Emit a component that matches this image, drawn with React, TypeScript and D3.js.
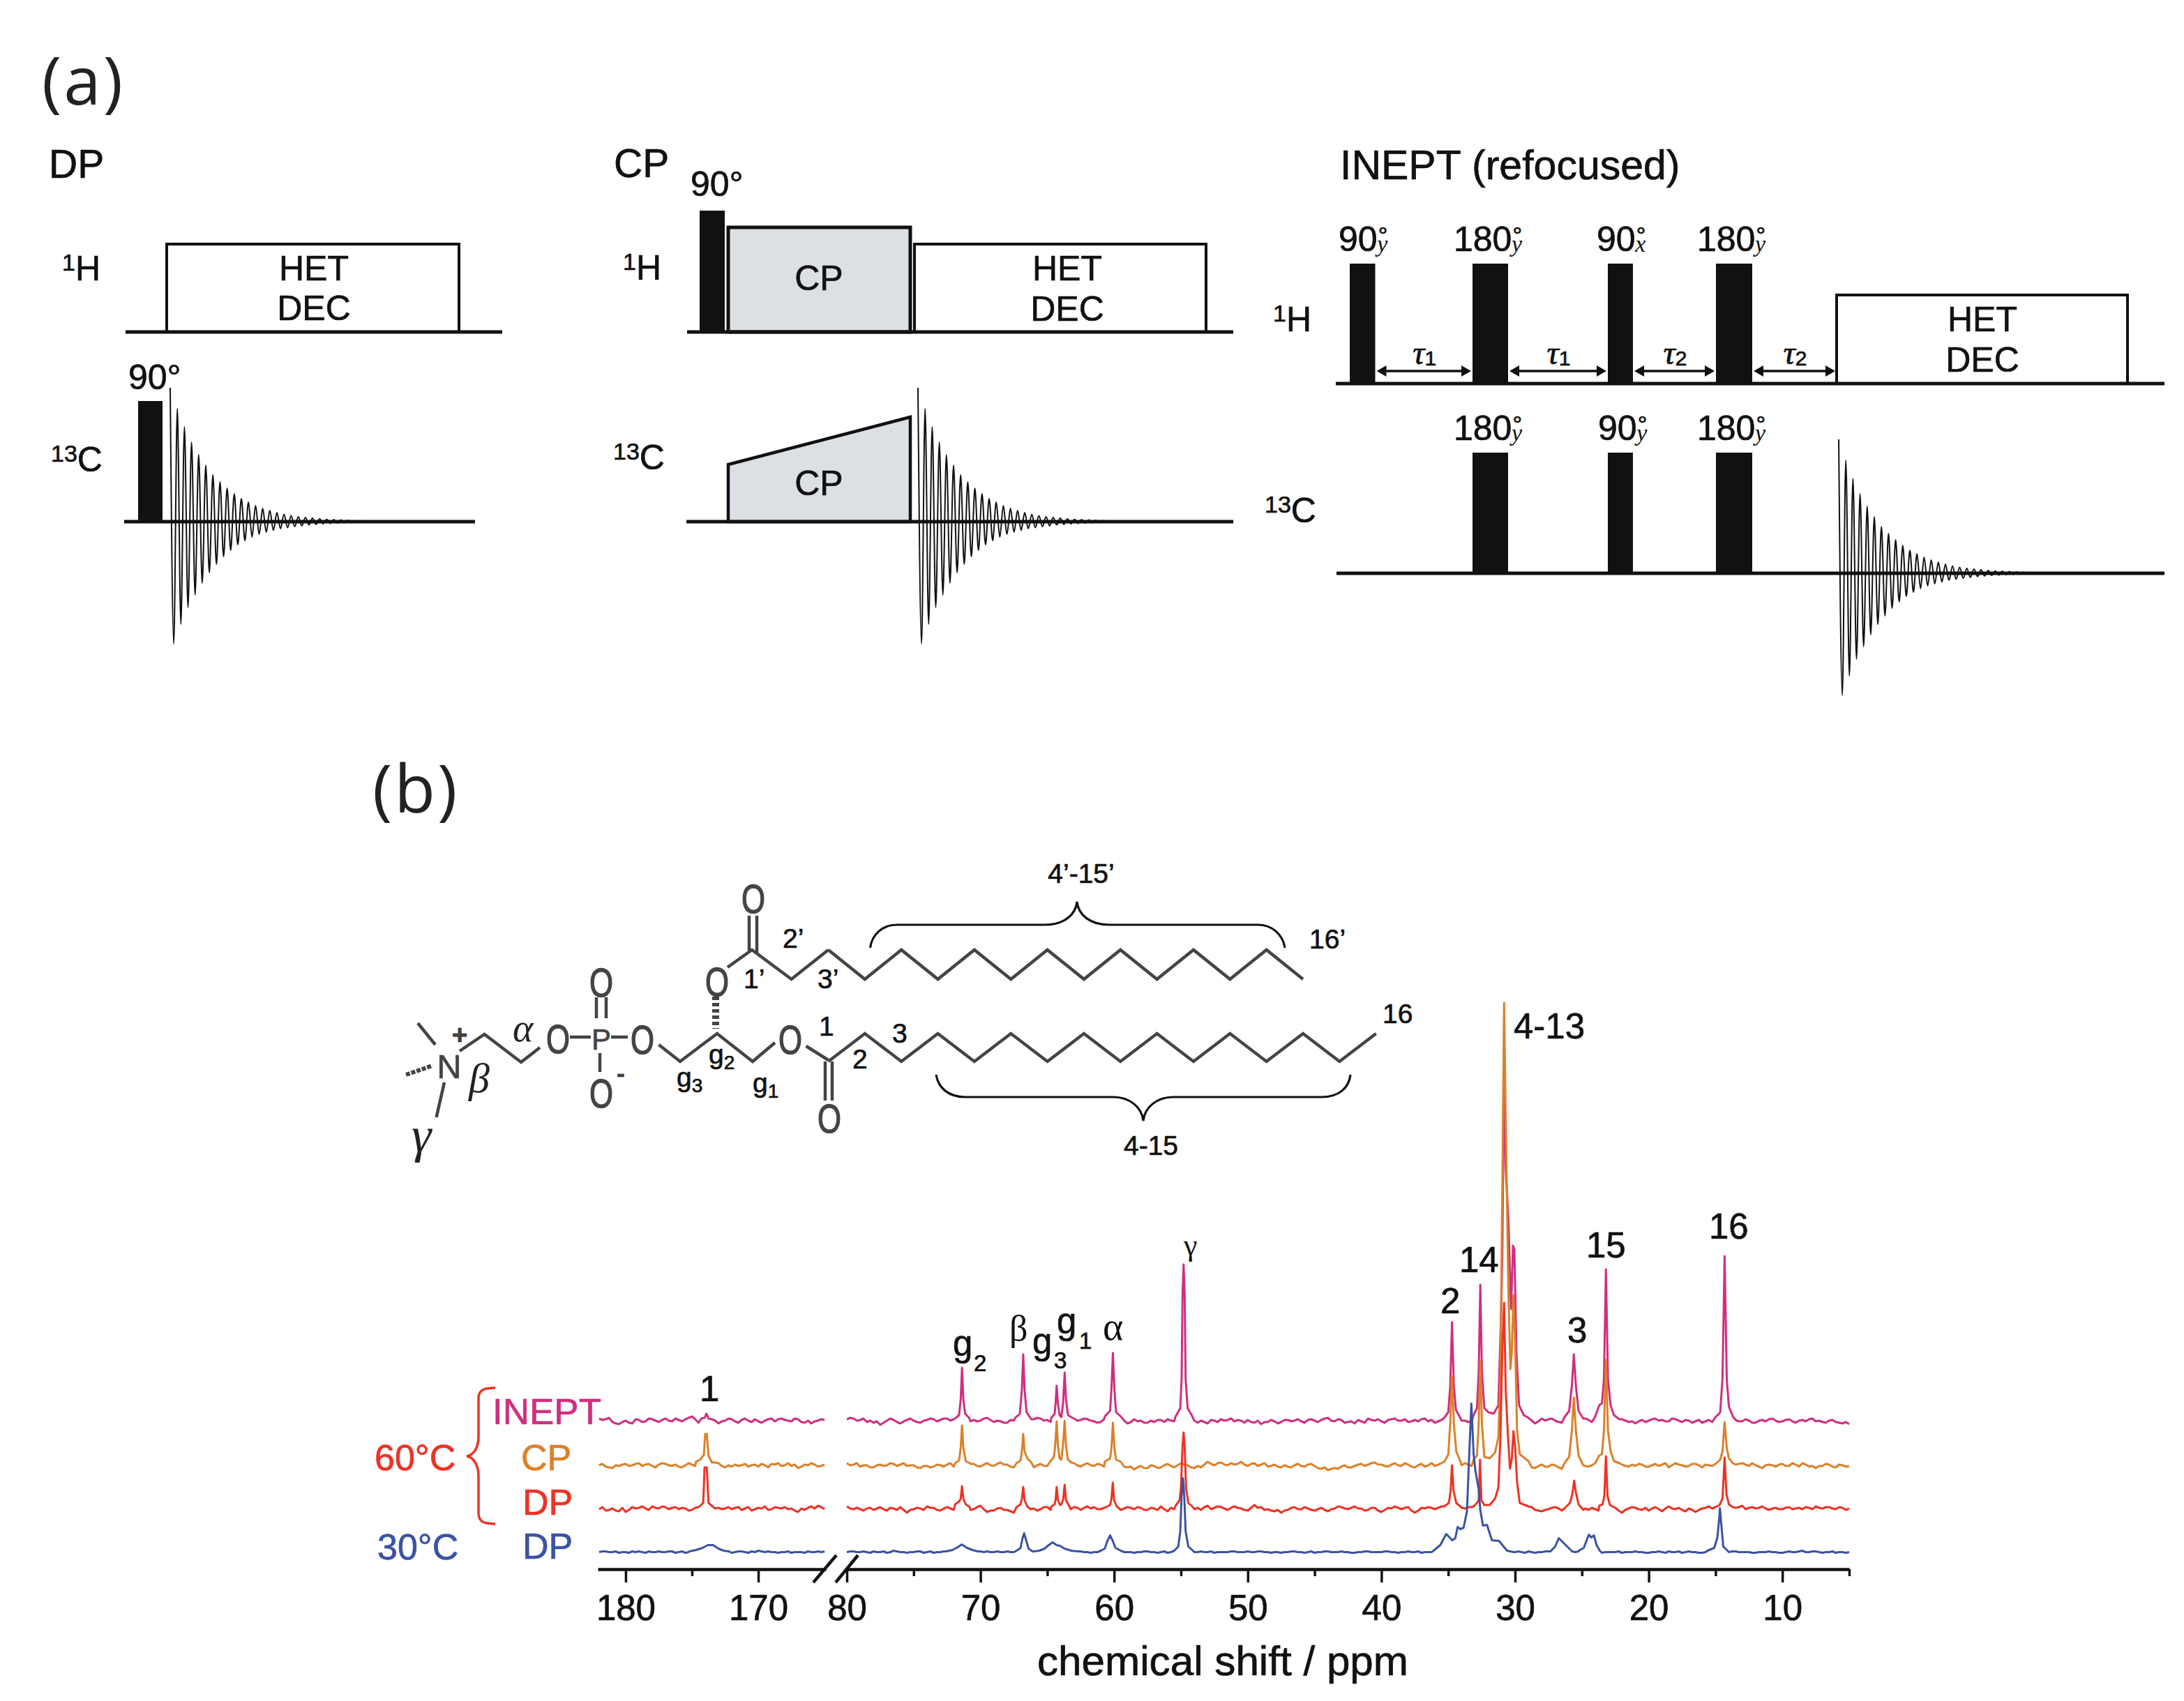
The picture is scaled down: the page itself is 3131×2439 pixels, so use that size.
import React, { useEffect, useRef } from 'react'
import * as d3 from 'd3'

type Pt = [number, number]

// FID lobes, amplitude
const fidUp = [192, 162, 136, 114, 96, 81, 67, 57, 48, 40, 33, 28, 23, 19, 16, 13, 10.5, 8.6, 7, 6, 5, 4, 3.3, 2.9, 2.4, 2, 1.6, 1.3, 1, 0.8, 0.6, 0.4, 0.3, 0.2]
const fidDown = [175, 147, 123, 105, 88, 73, 61, 50, 41, 33, 27, 22, 18, 15, 12.5, 10, 8.5, 7, 5.8, 4.6, 3.8, 3, 2.5, 2, 1.6, 1.2, 1, 0.8, 0.6, 0.4, 0.3, 0.2, 0.1, 0.1]

// INEPT timings, measured from the start of the row
const ineptPulses1H: Pt[] = [[20, 56.5], [196, 247], [390, 426], [545, 597]]
const ineptPulses13C: Pt[] = [[196, 247], [390, 426], [545, 597]]
const ineptDelays: [number, number, string][] = [[56.5, 196, '1'], [247, 390, '1'], [426, 545, '2'], [597, 718, '2']]
const ineptAngles1H = [['90', 'y'], ['180', 'y'], ['90', 'x'], ['180', 'y']]
const ineptAngles13C = [['180', 'y'], ['90', 'y'], ['180', 'y']]

// spectra: baseline noise on a 0.5 ppm grid (182..165 and 80..5), intensity above baseline
const noiseInept60L = [3, 2, -2, -5, 0, -4, 1, -1, 2, -2, 3, -1, 1, 2, 6, -3, 0, -2, -4, 0, 2, -3, 3, -2, -1, 0, 3, 2, 1, -1, 2, -3, -4, 0, 1]
const noiseCp60L = [0, -2, -4, -1, 2, 0, 3, 1, -1, 1, 2, -1, -2, 0, 1, 3, 0, -1, 3, -3, -2, -1, 2, 0, -2, 0, 2, 3, 0, -1, -4, 1, 3, -2, 1]
const noiseDp60L = [-1, -3, 0, -4, -5, 2, 1, 0, 3, 0, 2, 1, -1, 0, -2, -1, 0, -2, 1, 0, -1, 2, 0, -3, 1, 3, -1, 1, 2, 0, -5, -2, 3, 4, -1]
const noiseDp30L = [0, 1, 0, -1, 0, 1, 1, -1, 0, 1, 0, 1, 0, -1, 0, 0, 0, 1, 0, 0, -1, 1, 0, 1, 2, 0, 0, -1, 0, -1, 0, -1, 0, 1, 1]

// same traces, the points halfway between the grid above
const midInept60L = [1, 4, -4, -2, -3, 2, -2, 3, 0, 1, 0, 3, -1, 4, 2, 1, -3, 0, -1, 3, -1, 1, 0, 2, -3, 2, -1, 3, 0, 3, -2, 0, -1, 2]
const midCp60L = [2, -3, 0, 1, -1, 2, -1, 2, -3, 3, 0, 1, -3, 3, -1, 1, 2, 4, -1, 0, 1, 0, -2, 1, 2, -3, 1, -1, 3, 1, -2, 0, 1, -1]
const midDp60L = [2, -2, -3, 1, -2, 0, 3, -2, 1, 3, -1, 2, 1, -3, 1, 1, -3, 0, -1, 2, 1, -2, 2, -1, 0, -2, 2, 0, -1, -3, 0, 1, 0, 2]
const midDp30L = [1, 0, 1, 0, -1, 0, 0, 1, 0, 0, 1, -1, 1, 0, 1, -1, 1, 0, 1, 0, 0, 1, -1, 0, 1, 1, 0, 0, 1, 0, 0, 1, 0, 0]

const noiseInept60R = [
  2, 3, 1, -2, -3, -6, 0, 1, -4, 1,
  0, -3, 1, 2, 1, 3, 2, -5, -4, 1,
  0, 4, -2, -1, -3, 0, 1, 4, 2, 3,
  1, 0, -1, 0, 3, 1, 2, -1, -2, 0,
  1, -3, -4, 2, 0, -3, -2, 1, 2, -1,
  -3, -2, 0, 0, -4, 0, 2, 1, -1, 0,
  1, -3, -5, -2, -1, -2, 1, 0, -1, 1,
  0, 1, 4, -1, 1, -2, -4, -1, 3, 0,
  -1, 1, 3, 0, -2, 1, 2, -1, -3, 1,
  2, 3, 0, -2, 1, 4, 1, 0, -1, -3,
  -5, -1, 4, -4, 3, 2, 0, -3, 1, 2,
  0, 1, -2, -3, -1, 0, 2, -2, -4, 1,
  0, 3, 1, -1, 2, -2, 0, -1, -3, 1,
  -2, 0, 2, 1, -1, 0, -3, 1, 2, 0,
  -1, 2, -3, 1, 2, -1, -2, 0, -2, -4,
  -5]
const midInept60R = [
  4, 0, 3, 0, -1, -3, 3, -2, -1, 3,
  -2, 0, 3, -1, 3, 0, 4, -3, -1, -1,
  3, 1, 0, -3, 1, -2, 3, 2, 4, 0,
  -2, 2, 1, -3, 0, 3, 0, -3, 2, -2,
  -1, 0, -2, -1, -3, 0, 1, -2, 0, 2,
  -1, 1, -3, -2, 1, -2, 0, 3, 1, -3,
  -2, 0, -2, 1, -4, 1, -1, 2, -3, 2,
  -2, 3, 0, 2, -3, -1, 1, -3, 1, 2,
  -3, 2, 0, 2, -1, -1, 3, 1, -1, -1,
  0, 2, 0, -1, 2, -1, 3, -2, 0, -1,
  -3, 1, 0, -1, 0, 3, -2, -1, 3, -1,
  3, -2, 0, -4, 1, -2, 0, -1, -1, -2,
  2, 0, -1, 3, 0, 1, -3, 1, -1, -2,
  1, -2, 3, -1, 2, -3, 0, -1, 3, -2,
  1, -1, 0, -1, 3, 0, -3, 1, -3, -2]
const noiseCp60R = [
  3, 1, -2, 0, -3, 1, 0, 2, 1, -1,
  0, -4, -1, -2, 0, 1, -2, 3, 0, 2,
  -2, 3, -1, 4, 1, -3, 0, -4, -3, 2,
  -1, 1, 0, 2, 3, -2, 3, -1, 1, -2,
  0, 1, -3, -6, -1, -4, -1, -3, 2, -3,
  3, 0, -4, -3, 5, 0, 4, 0, 1, 5,
  -1, 3, 1, -2, 1, -3, -2, 0, -1, 1,
  -1, -5, -7, -4, -2, -3, -1, 2, 1, 4,
  1, -2, 3, -1, 1, -3, 2, 0, -1, 3,
  -2, 2, 0, 1, 2, 0, -1, -1, 2, 1,
  0, 3, -1, -4, 1, -2, 0, -5, 2, -1,
  1, -2, -4, 2, 0, 3, 1, -2, -1, 1,
  -2, 2, 1, -3, 3, 0, -1, 2, -3, 0,
  1, 2, -2, 1, 3, -1, 0, -4, 1, -2,
  2, -1, 1, 3, -2, -4, -1, 1, -3, 0,
  -1]
const midCp60R = [
  0, 3, 0, -3, 0, -1, 3, -1, 3, 0,
  -3, -1, -3, 1, -2, 3, 0, 1, 2, -1,
  1, 0, 2, 1, -2, 0, -3, -1, 0, -1,
  2, -2, 3, 0, 0, 1, 0, 2, -2, 0,
  -3, -2, -2, -3, -4, 0, -4, 0, -1, 0,
  1, -3, -1, 1, 2, 3, 1, 3, 2, 1,
  2, -1, 3, -1, -2, 0, -3, 2, -2, 2,
  -4, -3, -5, -5, 0, -3, 1, -1, 3, 1,
  -1, 1, 0, 3, -2, 0, -2, 3, 1, 0,
  1, -1, 3, -1, 3, -2, 1, 0, 0, 3,
  -2, 1, -3, -1, -2, 1, -3, -1, 0, 2,
  -1, 0, -1, -1, 3, 0, -1, 1, 2, -2,
  0, -1, 3, 0, 1, -2, 2, 0, 1, -1,
  3, -1, 0, 2, 1, 3, -2, 0, 0, 1,
  -1, 3, -2, 1, -1, -1, 2, -2, 1, -2]
const noiseDp60R = [
  3, -1, -1, 0, -2, 2, -3, 0, 2, -6,
  -1, 0, 3, 1, -3, 2, -2, 3, 2, -1,
  4, -5, -3, 1, -2, -6, -2, -4, 0, -1,
  2, -5, -1, 1, 2, -2, 3, 2, -1, -2,
  -3, 3, 2, -1, 1, -2, 0, 3, -4, -1,
  2, 3, -1, -2, 4, 1, 2, -2, 3, 0,
  -3, 5, 2, -1, -4, -6, -2, 2, -1, 0,
  -3, 1, -4, 0, 2, -1, 3, 0, -2, 1,
  -5, 1, 3, -1, 2, -6, 1, 2, -1, 3,
  0, -2, 1, 2, 1, 0, -3, -2, 2, 1,
  -4, 1, 0, -2, -4, -1, 2, -3, -1, 1,
  3, -2, -1, -5, -1, 1, -6, 0, 1, -2,
  -3, 2, -4, 3, -1, -2, 0, -5, 0, 3,
  2, -2, -4, 1, 4, 1, 0, 3, -2, 1,
  -1, 2, 0, -1, 1, 3, 0, 2, -1, 1,
  0]
const midDp60R = [
  0, 1, -3, 1, 0, -1, 1, -2, -2, -2,
  1, -2, 1, -2, 0, 0, 1, 0, -2, 2,
  -1, -3, 0, -2, -4, -3, -5, -1, -3, 2,
  -2, -2, 2, -1, 1, 1, 0, -1, 1, -4,
  1, 0, 1, 2, -2, 1, -2, -1, 1, 1,
  0, 0, 1, 2, -1, 3, 0, 1, 1, -2,
  1, 1, -2, -3, -2, -3, 1, -1, 2, -2,
  -1, -2, -1, 3, 0, 1, 0, -3, 1, -3,
  -2, 0, 1, 1, -3, -3, 0, 1, 1, -1,
  2, -1, 0, 2, -1, -2, 0, -1, 0, 3,
  -1, -2, 2, -3, -2, 1, 0, 1, -2, 0,
  0, 1, -3, -2, -2, -3, -2, 2, -1, 1,
  0, -1, 0, 0, 1, -4, -2, -2, 1, 0,
  0, -1, -1, 2, -1, 2, 1, 0, 0, -1,
  1, -1, 1, 2, -1, 1, 2, 0, 2, -2]
const noiseDp30R = [
  0, 1, 0, 0, 1, 0, -1, 2, 0, -1,
  0, 1, 0, -1, 0, 0, -1, 1, 0, 0,
  1, 1, 0, 0, 1, 0, 0, -1, 0, 1,
  0, -1, 0, 0, 0, 1, 0, 0, -1, 0,
  0, 1, 0, -1, 0, 1, 0, 0, -1, 0,
  0, -1, 0, 1, 0, -1, 0, 0, 1, 0,
  1, 0, 1, 0, 0, -1, 0, 1, 0, 0,
  -1, 0, 1, 0, 1, 0, -1, 0, 1, 0,
  0, 1, 0, 0, 1, 0, -1, 0, 0, 1,
  0, 0, 1, 0, 0, 0, 0, -1, 0, -1,
  0, 0, 1, -1, 0, 1, 0, -1, 0, 0,
  0, 1, 0, -1, 0, 0, -1, 0, 1, 0,
  -1, 0, 0, 1, 0, -1, 1, 0, -1, 0,
  0, -1, 0, 1, 0, 0, -1, 0, 1, 0,
  -1, 1, 0, 2, 0, 1, -1, 0, -1, 0,
  0]
const midDp30R = [
  1, 0, 1, -1, 0, 1, 0, 1, 0, 0,
  1, -1, 1, 0, 1, 0, 0, 0, 1, -1,
  0, 0, 1, 0, 0, 1, -1, 0, 1, 0,
  0, 0, 1, 0, 1, 0, -1, 0, 0, 1,
  -1, 0, 0, 0, 1, 0, -1, 1, 0, 1,
  -1, 0, 0, 0, 1, 0, 0, 1, 0, 0,
  0, 1, 0, -1, 0, 0, 1, 0, -1, 1,
  0, 1, 0, 0, 0, -1, 0, 1, 0, 0,
  1, 0, -1, 0, 0, 1, 0, 0, 1, 0,
  -1, 1, 0, -1, 1, 0, -1, 0, 0, 0,
  1, -1, 0, 0, 1, 0, 0, 1, -1, 1,
  0, 0, -1, 0, 0, 1, 0, 0, 0, -1,
  0, 1, -1, 0, 1, 0, 0, -1, 0, 1,
  -1, 0, 1, 0, 0, -1, 0, 0, 0, -1,
  0, 0, 1, 0, 1, 0, 0, 1, 0, -1]

// peaks, [ppm, intensity] points
const peaksInept60L: Pt[][] = [[[174.3, 3], [174.05, 4], [173.9, 10], [173.75, 3], [173.5, 2]]]
const peaksInept60R: Pt[][] = [
  [[71.9, 3], [71.6, 8], [71.48, 30], [71.38, 76], [71.28, 30], [71.15, 10], [70.85, 4]],
  [[67.4, 4], [67.05, 10], [66.9, 45], [66.8, 95], [66.7, 45], [66.55, 12], [66.2, 2]],
  [[64.7, 4], [64.45, 10], [64.38, 25], [64.3, 50], [64.2, 24], [64.08, 8], [63.95, 5], [63.82, 25], [63.7, 69], [63.6, 30], [63.45, 8], [63.2, 5]],
  [[60.7, 6], [60.3, 14], [60.2, 45], [60.09, 97], [59.98, 45], [59.85, 12], [59.5, 6]],
  [[55.4, 6], [55.05, 18], [54.95, 60], [54.88, 180], [54.8, 224], [54.72, 180], [54.65, 60], [54.5, 18], [54.2, 8]],
  [[35.3, 4], [35, 12], [34.85, 50], [34.72, 141], [34.58, 50], [34.42, 15], [34.1, 4]],
  [[33.1, 8], [32.85, 18], [32.72, 70], [32.6, 195], [32.48, 70], [32.3, 18], [32, 12], [31.6, 10], [31.25, 22], [31.05, 150], [30.95, 240], [30.82, 511], [30.7, 360], [30.5, 290], [30.3, 160], [30.15, 251], [30.05, 245], [29.9, 100], [29.7, 22], [29.35, 8], [29, 4]],
  [[26.3, 5], [25.95, 14], [25.75, 50], [25.6, 95], [25.45, 50], [25.25, 14], [24.9, 3]],
  [[24, 6], [23.7, 22], [23.5, 25], [23.35, 60], [23.2, 217], [23.05, 60], [22.85, 22], [22.6, 8], [22.2, 2]],
  [[15, 5], [14.65, 12], [14.48, 60], [14.32, 236], [14.16, 60], [14, 20], [13.7, 6]],
]
const peaksCp60L: Pt[][] = [[[174.7, 5], [174.4, 8], [174.1, 15], [174, 45], [173.88, 45], [173.75, 14], [173.5, 4]]]
const peaksCp60R: Pt[][] = [
  [[71.9, 3], [71.6, 7], [71.48, 25], [71.38, 57], [71.28, 25], [71.1, 6], [70.8, 3]],
  [[67.3, 3], [67, 7], [66.9, 20], [66.8, 45], [66.7, 20], [66.5, 10], [66.2, 4]],
  [[64.8, 5], [64.5, 12], [64.4, 30], [64.3, 63], [64.2, 28], [64.08, 10], [63.95, 8], [63.82, 30], [63.7, 64], [63.6, 28], [63.45, 8], [63.2, 4]],
  [[60.7, 5], [60.3, 10], [60.2, 25], [60.09, 61], [59.98, 25], [59.85, 8], [59.5, 5]],
  [[35.3, 5], [35, 15], [34.85, 60], [34.72, 127], [34.58, 60], [34.4, 20], [34.1, 6]],
  [[33.1, 8], [32.85, 14], [32.72, 60], [32.6, 149], [32.48, 60], [32.3, 12], [31.9, 10], [31.5, 18], [31.25, 40], [31.1, 120], [30.95, 400], [30.82, 663], [30.7, 500], [30.5, 250], [30.35, 138], [30.25, 160], [30.12, 244], [30, 180], [29.85, 50], [29.65, 16], [29.4, 12], [29, 6]],
  [[26.3, 3], [25.95, 12], [25.75, 50], [25.6, 97], [25.45, 50], [25.25, 14], [24.9, 0]],
  [[24, 3], [23.7, 14], [23.5, 16], [23.35, 50], [23.2, 151], [23.05, 50], [22.85, 20], [22.6, 6], [22.2, 3]],
  [[15, 2], [14.65, 8], [14.48, 20], [14.32, 62], [14.16, 25], [14, 10], [13.7, 3]],
]
const peaksDp60L: Pt[][] = [[[174.5, 2], [174.15, 8], [174.05, 59], [173.88, 59], [173.75, 8], [173.45, 3]]]
const peaksDp60R: Pt[][] = [
  [[71.9, 6], [71.6, 10], [71.48, 14], [71.38, 32], [71.28, 14], [71.1, 6], [70.8, 2]],
  [[67.3, 2], [67, 6], [66.9, 14], [66.8, 31], [66.7, 12], [66.5, 3]],
  [[64.7, 3], [64.45, 6], [64.38, 12], [64.3, 31], [64.2, 12], [64.05, 5], [63.95, 6], [63.82, 12], [63.7, 34], [63.6, 12], [63.4, 5]],
  [[60.6, 2], [60.3, 5], [60.2, 14], [60.1, 37], [60, 12], [59.8, 3], [59.5, -2]],
  [[55.4, 4], [55.1, 12], [55, 30], [54.88, 90], [54.8, 109], [54.72, 90], [54.62, 30], [54.45, 8], [54.1, 2]],
  [[35.3, 3], [34.95, 8], [34.82, 25], [34.72, 62], [34.6, 25], [34.4, 8], [34.1, 3]],
  [[33.1, 3], [32.85, 8], [32.72, 12], [32.62, 70], [32.52, 12], [32.3, 5], [31.9, 5], [31.5, 14], [31.25, 30], [31.1, 100], [30.95, 230], [30.82, 295], [30.7, 170], [30.52, 100], [30.38, 57], [30.25, 70], [30.12, 111], [30, 90], [29.85, 38], [29.65, 8], [29.4, 6], [29, 3]],
  [[26.2, 2], [25.9, 8], [25.72, 20], [25.58, 40], [25.44, 22], [25.25, 6], [24.9, -2]],
  [[23.7, 4], [23.45, 6], [23.32, 18], [23.2, 75], [23.08, 18], [22.9, 5], [22.6, 2]],
  [[15, 2], [14.7, 5], [14.48, 14], [14.32, 73], [14.18, 20], [14, 6], [13.7, 2]],
]
const peaksDp30L: Pt[][] = [[[175.2, 1], [174.7, 3], [174.2, 6], [173.8, 10], [173.4, 10], [173, 5], [172.6, 2], [172.2, 1]]]
const peaksDp30R: Pt[][] = [
  [[72.6, 1], [72.1, 3], [71.7, 7], [71.4, 11], [71, 6], [70.6, 3], [70.2, 1]],
  [[67.3, 2], [67, 6], [66.85, 20], [66.73, 27], [66.6, 18], [66.4, 5], [66.1, 1]],
  [[66, 1], [65.6, 2], [65.2, 5], [64.9, 10], [64.6, 14], [64.3, 10], [64.05, 9], [63.7, 5], [63.2, 2], [62.7, 1]],
  [[61, 2], [60.7, 5], [60.5, 16], [60.3, 24], [60.1, 16], [59.9, 6], [59.5, 2]],
  [[55.5, 2], [55.2, 8], [55.05, 30], [54.95, 80], [54.85, 106], [54.75, 80], [54.65, 30], [54.45, 8], [54.1, 2]],
  [[36.1, 2], [35.6, 10], [35.15, 26], [34.7, 17], [34.47, 20], [34.3, 36], [34.1, 33], [33.85, 35], [33.6, 58], [33.47, 120], [33.27, 213], [33.1, 140], [32.97, 117], [32.72, 90], [32.6, 60], [32.4, 38], [32.1, 39], [31.73, 17], [31.2, 16], [30.6, 2], [30.1, 0]],
  [[27.35, 1], [27, 8], [26.73, 20], [26.36, 13], [25.73, 1]],
  [[25.23, 2], [24.86, 6], [24.48, 25], [24.3, 21], [24.1, 24], [23.9, 10], [23.66, 2]],
  [[15.6, 2], [15.1, 6], [14.87, 20], [14.74, 45], [14.67, 63], [14.57, 40], [14.42, 8], [14.1, 2]],
]

const traces = [
  { name: 'INEPT', color: '#CF2F7E', baseline: 2037, noiseL: noiseInept60L, midL: midInept60L, noiseR: noiseInept60R, midR: midInept60R, peaksL: peaksInept60L, peaksR: peaksInept60R },
  { name: 'CP', color: '#DD8029', baseline: 2101, noiseL: noiseCp60L, midL: midCp60L, noiseR: noiseCp60R, midR: midCp60R, peaksL: peaksCp60L, peaksR: peaksCp60R },
  { name: 'DP', color: '#EE3224', baseline: 2163, noiseL: noiseDp60L, midL: midDp60L, noiseR: noiseDp60R, midR: midDp60R, peaksL: peaksDp60L, peaksR: peaksDp60R },
  { name: 'DP', color: '#3A53A4', baseline: 2225.5, noiseL: noiseDp30L, midL: midDp30L, noiseR: noiseDp30R, midR: midDp30R, peaksL: peaksDp30L, peaksR: peaksDp30R },
]

const ticksMajorL = [180, 170]
const ticksMinorL = [175]
const ticksMajorR = [80, 70, 60, 50, 40, 30, 20, 10]
const ticksMinorR = [75, 65, 55, 45, 35, 25, 15, 5]

// peak assignments: label, subscript
const peakLabels: { t: string; x: number; y: number; sub?: string; sx?: number; sy?: number }[] = [
  { t: '1', x: 1003, y: 2009 },
  { t: 'g', x: 1366, y: 1944, sub: '2', sx: 1396, sy: 1966 },
  { t: 'g', x: 1480, y: 1941, sub: '3', sx: 1511, sy: 1962 },
  { t: 'g', x: 1515, y: 1912, sub: '1', sx: 1547, sy: 1934 },
  { t: '2', x: 2065, y: 1883 },
  { t: '14', x: 2092, y: 1824 },
  { t: '4-13', x: 2170, y: 1489 },
  { t: '3', x: 2247, y: 1925 },
  { t: '15', x: 2274, y: 1803 },
  { t: '16', x: 2450, y: 1776 },
]

// lipid skeleton
const upperCarbons = d3.range(14)
const lowerCarbons = d3.range(16)
const headBonds: Pt[][] = [
  [[599, 1467], [624, 1498]],
  [[637, 1552], [625.6, 1602]],
  [[659, 1507], [694.5, 1483], [747, 1523], [774, 1502]],
  [[817, 1487], [847, 1487]],
  [[876, 1487], [900, 1487]],
  [[944.5, 1498], [975, 1522], [1028, 1482], [1079, 1522], [1111, 1495]],
  [[1155.6, 1500], [1187.5, 1520]],
  [[855, 1430], [855, 1460]],
  [[869, 1430], [869, 1460]],
  [[860, 1510], [860, 1537]],
  [[1183, 1522], [1183, 1578]],
  [[1193, 1522], [1193, 1578]],
  [[1043, 1387], [1078, 1362], [1134.6, 1404], [1187.5, 1362]],
  [[1074, 1313], [1074, 1363]],
  [[1085, 1313], [1085, 1366]],
]
const atomO: Pt[] = [[1080, 1288], [1028, 1407], [800, 1489], [862, 1408], [921, 1490], [862, 1567], [1133, 1490], [1189, 1603]]

const sans = '"Liberation Sans", Arial, sans-serif'
const serif = '"Liberation Serif", serif'
const ink = '#111'
const bondInk = '#444'

const fidLine = d3.line<Pt>().curve(d3.curveMonotoneX)
const fidPoints: Pt[] = (() => {
  const x = d3.scaleLinear().domain([0, 1]).range([0, 5.1])
  const out: Pt[] = []
  fidUp.forEach((a, i) => {
    out.push([x(i * 2), -a])
    out.push([x(i * 2 + 1), fidDown[i]])
  })
  return out
})()

function Fid({ x, y }: { x: number; y: number }) {
  return <path transform={`translate(${x},${y})`} d={fidLine(fidPoints) || ''} fill="none" stroke="#111" strokeWidth={2} />
}

function Nucleus({ x, y, mass, el }: { x: number; y: number; mass: string; el: string }) {
  return (
    <text x={x} y={y} fontFamily={sans} fontSize={50} fill={ink}>
      <tspan fontSize={34} dy={-14}>{mass}</tspan>
      <tspan dy={14}>{el}</tspan>
    </text>
  )
}

function HetDec({ x, w, top, bottom, cx, y1, y2 }: { x: number; w: number; top: number; bottom: number; cx: number; y1: number; y2: number }) {
  return (
    <g>
      <rect x={x} y={top} width={w} height={bottom - top} fill="#fff" stroke={ink} strokeWidth={4} />
      <text x={cx} y={y1} textAnchor="middle" fontFamily={sans} fontSize={50} fill={ink}>HET</text>
      <text x={cx} y={y2} textAnchor="middle" fontFamily={sans} fontSize={50} fill={ink}>DEC</text>
    </g>
  )
}

function Angle({ x, y, deg, axis }: { x: number; y: number; deg: string; axis: string }) {
  return (
    <text x={x} y={y} fontFamily={sans} fontSize={50} fill={ink}>
      {deg}
      <tspan fontSize={34} dx={1} dy={-11}>°</tspan>
      <tspan fontFamily={serif} fontStyle="italic" fontSize={34} dx={-15} dy={12} style={{ stroke: 'none' }}>{axis}</tspan>
    </text>
  )
}

function segmentPoints(start: number, noise: number[], mid: number[], groups: Pt[][]): Pt[] {
  const pts: Pt[] = []
  noise.forEach((h, i) => {
    pts.push([start - i * 0.5, h])
    if (i < mid.length) pts.push([start - i * 0.5 - 0.25, mid[i]])
  })
  const kept = pts.filter(([p]) => !groups.some((g) => p <= g[0][0] && p >= g[g.length - 1][0]))
  groups.forEach((g) => kept.push(...g))
  return kept.sort((a, b) => b[0] - a[0])
}

export default function App() {
  const axisL = useRef<SVGGElement>(null)
  const axisR = useRef<SVGGElement>(null)

  const xL = d3.scaleLinear().domain([182.1, 164.9]).range([857, 1184])
  const xR = d3.scaleLinear().domain([80, 5]).range([1214, 2651])
  const yI = d3.scaleLinear().domain([0, 700]).range([0, -700])
  const chainX = d3.scaleLinear().domain([0, 15]).range([1187.5, 1972.7])
  const ineptT = d3.scaleLinear().domain([0, 1188]).range([1915, 3103])

  const lineL = d3.line<Pt>().x((d) => xL(d[0])).y((d) => yI(d[1]))
  const lineR = d3.line<Pt>().x((d) => xR(d[0])).y((d) => yI(d[1]))
  const skeleton = d3.line<Pt>()

  useEffect(() => {
    const draw = (el: SVGGElement | null, scale: any, major: number[], minor: number[]) => {
      const g = d3.select(el)
      g.selectAll('*').remove()
      const maj = g.append('g').call(d3.axisBottom(scale).tickValues(major).tickSize(19).tickSizeOuter(0).tickFormat(d3.format('d')) as any)
      const min = g.append('g').call(d3.axisBottom(scale).tickValues(minor).tickSize(10).tickSizeOuter(0).tickFormat(() => '') as any)
      maj.select('.domain').attr('stroke', ink).attr('stroke-width', 4.5)
      min.select('.domain').remove()
      g.selectAll('line').attr('stroke', ink).attr('stroke-width', 3.5)
      maj.selectAll('text').attr('y', 73).attr('dy', 0).attr('fill', ink).attr('font-size', 51).attr('font-family', sans)
    }
    draw(axisL.current, xL, ticksMajorL, ticksMinorL)
    draw(axisR.current, xR, ticksMajorR, ticksMinorR)
  }, [])

  return (
    <svg width={3131} height={2439} style={{ position: 'absolute', left: 0, top: 0, background: '#fff' }}>
      <style>{'text{stroke:#111;stroke-width:.7px}'}</style>
      {/* panel letters */}
      <text x={60} y={150} fontFamily='"Open Sans", sans-serif' fontWeight={400} fontSize={96} letterSpacing={3} fill="#222" style={{ stroke: 'none' }}>(a)</text>
      <text x={534} y={1165} fontFamily='"Open Sans", sans-serif' fontWeight={400} fontSize={96} letterSpacing={3} fill="#222" style={{ stroke: 'none' }}>(b)</text>

      {/* DP sequence */}
      <text x={70} y={255} fontFamily={sans} fontSize={57} fill={ink}>DP</text>
      <Nucleus x={89} y={402} mass="1" el="H" />
      <HetDec x={239} w={419} top={350} bottom={476} cx={450} y1={402} y2={459} />
      <line x1={180} x2={720} y1={476} y2={476} stroke={ink} strokeWidth={5} />
      <Nucleus x={73} y={676} mass="13" el="C" />
      <text x={184} y={558} fontFamily={sans} fontSize={50} fill={ink}>90°</text>
      <rect x={198} y={575} width={35} height={173} fill={ink} />
      <line x1={178} x2={681} y1={748} y2={748} stroke={ink} strokeWidth={5} />
      <Fid x={244} y={748} />

      {/* CP sequence */}
      <text x={880} y={254} fontFamily={sans} fontSize={57} fill={ink}>CP</text>
      <text x={990} y={281} fontFamily={sans} fontSize={50} fill={ink}>90°</text>
      <Nucleus x={893} y={401} mass="1" el="H" />
      <rect x={1003} y={302} width={36} height={174} fill={ink} />
      <rect x={1044} y={326} width={261} height={150} fill="#DCDFE3" stroke={ink} strokeWidth={5} />
      <text x={1174} y={416} textAnchor="middle" fontFamily={sans} fontSize={50} fill={ink}>CP</text>
      <HetDec x={1311} w={418} top={350} bottom={476} cx={1530} y1={402} y2={460} />
      <line x1={985} x2={1768} y1={476} y2={476} stroke={ink} strokeWidth={5} />
      <Nucleus x={879} y={673} mass="13" el="C" />
      <path d={d3.line()([[1044, 748], [1044, 666], [1305, 598], [1305, 748]]) + 'Z'} fill="#DCDFE3" stroke={ink} strokeWidth={4.5} />
      <text x={1174} y={710} textAnchor="middle" fontFamily={sans} fontSize={50} fill={ink}>CP</text>
      <line x1={984} x2={1768} y1={748} y2={748} stroke={ink} strokeWidth={5} />
      <Fid x={1316} y={748} />

      {/* INEPT sequence */}
      <text x={1921} y={257} fontFamily={sans} fontSize={59} fill={ink}>INEPT (refocused)</text>
      <Nucleus x={1825} y={475} mass="1" el="H" />
      {ineptPulses1H.map(([a, b], i) => (
        <g key={i}>
          <rect x={ineptT(a)} y={378} width={ineptT(b) - ineptT(a)} height={172} fill={ink} />
          <Angle x={ineptT(a) + (i % 2 ? -27 : -16)} y={360} deg={ineptAngles1H[i][0]} axis={ineptAngles1H[i][1]} />
        </g>
      ))}
      {ineptDelays.map(([a, b, n], i) => {
        const x0 = ineptT(a) + 2
        const x1 = ineptT(b) - 2
        return (
          <g key={i}>
            <path d={`M${x0} 532L${x0 + 14} 524L${x0 + 14} 540ZM${x1} 532L${x1 - 14} 524L${x1 - 14} 540Z`} fill={ink} />
            <line x1={x0 + 10} x2={x1 - 10} y1={532} y2={532} stroke={ink} strokeWidth={3.5} />
            <text x={(x0 + x1) / 2 - 16} y={522} fontSize={48} fontFamily={serif} fontStyle="italic" fill={ink}>
              τ<tspan fontFamily={sans} fontStyle="normal" fontSize={30} dy={2}>{n}</tspan>
            </text>
          </g>
        )
      })}
      <HetDec x={2633} w={417} top={423} bottom={550} cx={2842} y1={475} y2={533} />
      <line x1={1915} x2={3103} y1={550} y2={550} stroke={ink} strokeWidth={5} />
      <Nucleus x={1813} y={749} mass="13" el="C" />
      {ineptPulses13C.map(([a, b], i) => (
        <g key={i}>
          <rect x={ineptT(a)} y={649} width={ineptT(b) - ineptT(a)} height={173} fill={ink} />
          <Angle x={ineptT(a) + (i === 1 ? -14 : -27)} y={631} deg={ineptAngles13C[i][0]} axis={ineptAngles13C[i][1]} />
        </g>
      ))}
      <line x1={1916} x2={3103} y1={822} y2={822} stroke={ink} strokeWidth={5} />
      <Fid x={2636} y={822} />

      {/* lipid structure */}
      <g fill="none" stroke={bondInk} strokeWidth={4.5}>
        <path d={skeleton(upperCarbons.map((i): Pt => [chainX(i), i % 2 ? 1404 : 1362])) || ''} />
        <path d={skeleton(lowerCarbons.map((i): Pt => [chainX(i), i % 2 ? 1482 : 1522])) || ''} />
        {headBonds.map((b, i) => <path key={i} d={skeleton(b) || ''} />)}
        <path d={skeleton([[582, 1541], [620, 1528]]) || ''} strokeDasharray="6 2" strokeWidth={6} />
        <path d={skeleton([[1026, 1429], [1026, 1475]]) || ''} strokeDasharray="5 4" strokeWidth={10} />
      </g>
      <g fontFamily={sans} fill={bondInk} textAnchor="middle">
        {atomO.map(([x, y], i) => (
          <text key={i} x={x - 17} y={y + 21} fontSize={58} textLength={34} lengthAdjust="spacingAndGlyphs" textAnchor="start" style={{ stroke: bondInk, strokeWidth: 1.5 }}>O</text>
        ))}
        <text x={862} y={1505} fontSize={42} style={{ stroke: bondInk }}>P</text>
        <text x={644} y={1546} fontSize={49} style={{ stroke: bondInk }}>N</text>
        <text x={659} y={1497} fontSize={38} fontWeight="bold">+</text>
        <text x={890} y={1551} fontSize={34} fontWeight="bold">-</text>
      </g>
      <g fontFamily={serif} fontStyle="italic" fill="#222">
        <text x={735} y={1493} fontSize={56} style={{ stroke: 'none' }}>α</text>
        <text x={672} y={1566} fontSize={60} style={{ stroke: 'none' }}>β</text>
        <text x={590} y={1652} fontSize={72} style={{ stroke: 'none' }}>γ</text>
      </g>
      <g fontFamily={sans} fontSize={39} fill={ink}>
        <text x={970} y={1558}>g<tspan fontSize={28} dy={8}>3</tspan></text>
        <text x={1016} y={1525}>g<tspan fontSize={28} dy={8}>2</tspan></text>
        <text x={1079} y={1566}>g<tspan fontSize={28} dy={8}>1</tspan></text>
        <text x={1174} y={1485}>1</text>
        <text x={1222} y={1532}>2</text>
        <text x={1279} y={1495}>3</text>
        <text x={1066} y={1417}>1’</text>
        <text x={1122} y={1359}>2’</text>
        <text x={1172} y={1417}>3’</text>
        <text x={1550} y={1266} textAnchor="middle">4’-15’</text>
        <text x={1650} y={1656} textAnchor="middle">4-15</text>
        <text x={1877} y={1360}>16’</text>
        <text x={1982} y={1467}>16</text>
      </g>
      <g fill="none" stroke={ink} strokeWidth={3.2}>
        <path d="M1247.6 1359C1250 1340 1265 1326 1286 1326L1498 1326C1525 1326 1542 1312 1544 1293C1546 1312 1563 1326 1590 1326L1803 1326C1824 1326 1839 1340 1842 1359" />
        <path d="M1342 1541C1345 1560 1360 1573 1384 1573L1596 1573C1620 1573 1637 1588 1639 1607C1641 1588 1658 1573 1682 1573L1895 1573C1919 1573 1934 1560 1936 1541" />
      </g>

      {/* spectra */}
      {traces.map((t, i) => (
        <g key={i} transform={`translate(0,${t.baseline})`} fill="none" stroke={t.color} strokeWidth={3} strokeLinejoin="round">
          <path d={lineL(segmentPoints(182, t.noiseL, t.midL, t.peaksL)) || ''} />
          <path d={lineR(segmentPoints(80, t.noiseR, t.midR, t.peaksR)) || ''} />
        </g>
      ))}
      <g ref={axisL} transform="translate(0,2250)" />
      <g ref={axisR} transform="translate(0,2250)" />
      <g stroke={ink} strokeWidth={4.5}>
        <line x1={1166} y1={2269} x2={1199} y2={2230} />
        <line x1={1198} y1={2269} x2={1230} y2={2230} />
      </g>
      <text x={1487} y={2402} fontFamily={sans} fontSize={60} textLength={532} lengthAdjust="spacingAndGlyphs" fill={ink}>chemical shift / ppm</text>

      {/* peak labels */}
      <g fontFamily={sans} fontSize={51} fill={ink}>
        {peakLabels.map((l, i) => (
          <g key={i}>
            <text x={l.x} y={l.y}>{l.t}</text>
            {l.sub && <text x={l.sx} y={l.sy} fontSize={33}>{l.sub}</text>}
          </g>
        ))}
      </g>
      <g fontFamily={serif} fill={ink}>
        <text x={1447} y={1922} fontSize={52} style={{ stroke: 'none' }}>β</text>
        <text x={1581} y={1921} fontSize={56} style={{ stroke: 'none' }}>α</text>
        <text x={1697} y={1800} fontSize={44} style={{ stroke: 'none' }}>γ</text>
      </g>

      {/* legend */}
      <g fontFamily={sans} fontSize={52}>
        <text x={706} y={2042} fill={traces[0].color} style={{ stroke: traces[0].color }} textLength={156} lengthAdjust="spacingAndGlyphs">INEPT</text>
        <text x={747} y={2108} fill={traces[1].color} style={{ stroke: traces[1].color }}>CP</text>
        <text x={749} y={2172} fill={traces[2].color} style={{ stroke: traces[2].color }}>DP</text>
        <text x={749} y={2235} fill={traces[3].color} style={{ stroke: traces[3].color }}>DP</text>
        <text x={537} y={2108} fill={traces[2].color} style={{ stroke: traces[2].color }}>60°C</text>
        <text x={541} y={2236} fill={traces[3].color} style={{ stroke: traces[3].color }}>30°C</text>
      </g>
      <path d="M710 1990C694 1990 686 1993 686 2005L686 2060C686 2075 680 2086 669 2088C680 2090 686 2102 686 2117L686 2170C686 2182 694 2185 710 2185" fill="none" stroke={traces[2].color} strokeWidth={3.5} />
    </svg>
  )
}
